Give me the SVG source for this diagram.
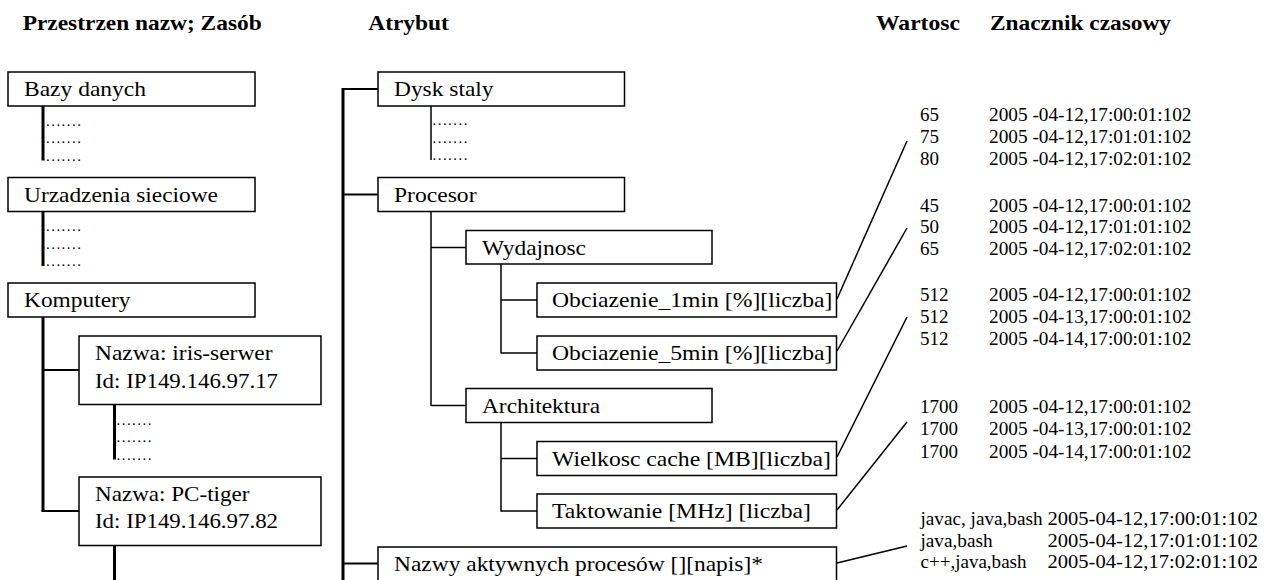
<svg xmlns="http://www.w3.org/2000/svg" width="1278" height="580" viewBox="0 0 1278 580" font-family="'Liberation Serif', serif">
  <style>
    .hdr { font-family: "Liberation Serif", serif; font-size: 21.5px; font-weight: bold; fill: #000; }
    .lbl { font-family: "Liberation Serif", serif; font-size: 22px; fill: #000; }
    .dots { font-family: "Liberation Serif", serif; font-size: 15px; letter-spacing: 1.45px; fill: #000; }
    .val { font-family: "Liberation Serif", serif; font-size: 19px; fill: #000; }
    .box { fill: #fff; stroke: #000; stroke-width: 1.5; }
    .trunk { stroke: #000; stroke-width: 3; fill: none; }
    .branch { stroke: #000; stroke-width: 2.2; fill: none; }
    .thin { stroke: #000; stroke-width: 1.5; fill: none; }
    .link { stroke: #000; stroke-width: 1.5; fill: none; }
  </style>
  <rect width="1278" height="580" fill="#fff"/>

  <!-- column headings -->
  <g id="headers">
    <text class="hdr" x="22.7" y="29.5" textLength="239" lengthAdjust="spacingAndGlyphs">Przestrzen nazw; Zasób</text>
    <text class="hdr" x="368.3" y="29.5" textLength="80.5" lengthAdjust="spacingAndGlyphs">Atrybut</text>
    <text class="hdr" x="876" y="29.5" textLength="84" lengthAdjust="spacingAndGlyphs">Wartosc</text>
    <text class="hdr" x="990" y="29.5" textLength="181" lengthAdjust="spacingAndGlyphs">Znacznik czasowy</text>
  </g>

  <!-- tree lines and value links -->
  <g id="connectors">
    <!-- namespace / resource tree -->
    <line class="trunk" x1="43" y1="106" x2="43" y2="160.5"/>
    <line class="trunk" x1="43" y1="211.5" x2="43" y2="266"/>
    <line class="trunk" x1="43" y1="317" x2="43" y2="511"/>
    <line class="branch" x1="43" y1="370" x2="79" y2="370"/>
    <line class="branch" x1="41.5" y1="511" x2="79" y2="511"/>
    <line class="trunk" x1="114.5" y1="404.5" x2="114.5" y2="459.5"/>
    <line class="trunk" x1="114.5" y1="545.5" x2="114.5" y2="580"/>

    <!-- attribute tree -->
    <line class="trunk" x1="343" y1="88" x2="343" y2="580"/>
    <line class="branch" x1="343" y1="89" x2="378" y2="89"/>
    <line class="branch" x1="343" y1="194.5" x2="378" y2="194.5"/>
    <line class="branch" x1="343" y1="563.5" x2="378" y2="563.5"/>
    <line class="thin" x1="431" y1="106" x2="431" y2="160"/>
    <line class="thin" x1="431" y1="211.5" x2="431" y2="406"/>
    <line class="thin" x1="431" y1="247.5" x2="466" y2="247.5"/>
    <line class="thin" x1="431" y1="405.5" x2="466" y2="405.5"/>
    <line class="thin" x1="501" y1="264" x2="501" y2="353.5"/>
    <line class="thin" x1="501" y1="300" x2="537" y2="300"/>
    <line class="thin" x1="501" y1="353" x2="537" y2="353"/>
    <line class="thin" x1="501" y1="422.5" x2="501" y2="511.5"/>
    <line class="thin" x1="501" y1="458.5" x2="537" y2="458.5"/>
    <line class="thin" x1="501" y1="511" x2="537" y2="511"/>

    <!-- links from attributes to their value lists -->
    <line class="link" x1="837" y1="299" x2="907" y2="141"/>
    <line class="link" x1="837" y1="351" x2="907" y2="228"/>
    <line class="link" x1="837" y1="457" x2="907" y2="317"/>
    <line class="link" x1="837" y1="510" x2="907" y2="422"/>
    <line class="link" x1="837" y1="563" x2="907" y2="546"/>
  </g>

  <!-- namespaces and resources -->
  <g id="node-bazy-danych">
    <rect class="box" x="8" y="72" width="247" height="34"/>
    <text class="lbl" x="24" y="96" textLength="122" lengthAdjust="spacingAndGlyphs">Bazy danych</text>
    <text class="dots" x="46" y="125.5">.......</text>
    <text class="dots" x="46" y="143">.......</text>
    <text class="dots" x="46" y="160.5">.......</text>
  </g>
  <g id="node-urzadzenia-sieciowe">
    <rect class="box" x="8" y="177.5" width="247" height="34"/>
    <text class="lbl" x="24" y="201.5" textLength="194" lengthAdjust="spacingAndGlyphs">Urzadzenia sieciowe</text>
    <text class="dots" x="46" y="231">.......</text>
    <text class="dots" x="46" y="248.5">.......</text>
    <text class="dots" x="46" y="266">.......</text>
  </g>
  <g id="node-komputery">
    <rect class="box" x="8" y="283" width="247" height="34"/>
    <text class="lbl" x="24" y="307" textLength="106.5" lengthAdjust="spacingAndGlyphs">Komputery</text>
  </g>
  <g id="node-iris-serwer">
    <rect class="box" x="79" y="336" width="242" height="68.5"/>
    <text class="lbl" x="95" y="360" textLength="177.5" lengthAdjust="spacingAndGlyphs">Nazwa: iris-serwer</text>
    <text class="lbl" x="95" y="387.5" textLength="183" lengthAdjust="spacingAndGlyphs">Id: IP149.146.97.17</text>
    <text class="dots" x="116.5" y="424.5">.......</text>
    <text class="dots" x="116.5" y="442">.......</text>
    <text class="dots" x="116.5" y="459.5">.......</text>
  </g>
  <g id="node-pc-tiger">
    <rect class="box" x="79" y="477" width="242" height="68.5"/>
    <text class="lbl" x="95" y="501" textLength="154.5" lengthAdjust="spacingAndGlyphs">Nazwa: PC-tiger</text>
    <text class="lbl" x="95" y="528" textLength="183" lengthAdjust="spacingAndGlyphs">Id: IP149.146.97.82</text>
  </g>

  <!-- attributes -->
  <g id="node-dysk-staly">
    <rect class="box" x="378" y="72" width="246.5" height="34"/>
    <text class="lbl" x="394" y="96" textLength="99.5" lengthAdjust="spacingAndGlyphs">Dysk staly</text>
    <text class="dots" x="432.5" y="125">.......</text>
    <text class="dots" x="432.5" y="142.5">.......</text>
    <text class="dots" x="432.5" y="160">.......</text>
  </g>
  <g id="node-procesor">
    <rect class="box" x="378" y="177.5" width="246.5" height="34"/>
    <text class="lbl" x="394" y="201.5" textLength="82.5" lengthAdjust="spacingAndGlyphs">Procesor</text>
  </g>
  <g id="node-wydajnosc">
    <rect class="box" x="466" y="230.5" width="246" height="33.5"/>
    <text class="lbl" x="482" y="254.5" textLength="104" lengthAdjust="spacingAndGlyphs">Wydajnosc</text>
  </g>
  <g id="node-obciazenie-1min">
    <rect class="box" x="537" y="283" width="299.5" height="34"/>
    <text class="lbl" x="552" y="307" textLength="280.5" lengthAdjust="spacingAndGlyphs">Obciazenie_1min [%][liczba]</text>
  </g>
  <g id="node-obciazenie-5min">
    <rect class="box" x="537" y="336" width="299.5" height="34"/>
    <text class="lbl" x="552" y="360" textLength="280.5" lengthAdjust="spacingAndGlyphs">Obciazenie_5min [%][liczba]</text>
  </g>
  <g id="node-architektura">
    <rect class="box" x="466" y="388.5" width="246" height="34"/>
    <text class="lbl" x="482" y="412.5" textLength="118" lengthAdjust="spacingAndGlyphs">Architektura</text>
  </g>
  <g id="node-wielkosc-cache">
    <rect class="box" x="537" y="441.5" width="299.5" height="34"/>
    <text class="lbl" x="552" y="465.5" textLength="279" lengthAdjust="spacingAndGlyphs">Wielkosc cache [MB][liczba]</text>
  </g>
  <g id="node-taktowanie">
    <rect class="box" x="537" y="494" width="299.5" height="34"/>
    <text class="lbl" x="552" y="518" textLength="259" lengthAdjust="spacingAndGlyphs">Taktowanie [MHz] [liczba]</text>
  </g>
  <g id="node-nazwy-procesow">
    <rect class="box" x="378" y="547" width="458.5" height="40"/>
    <text class="lbl" x="394" y="571" textLength="369" lengthAdjust="spacingAndGlyphs">Nazwy aktywnych procesów [][napis]*</text>
  </g>

  <!-- values with timestamps -->
  <g id="values-obciazenie-1min">
    <text class="val" x="920" y="120.5">65</text>
    <text class="val" x="920" y="142.5">75</text>
    <text class="val" x="920" y="164.5">80</text>
    <text class="val" x="989" y="120.5" textLength="202.5" lengthAdjust="spacingAndGlyphs">2005 -04-12,17:00:01:102</text>
    <text class="val" x="989" y="142.5" textLength="202.5" lengthAdjust="spacingAndGlyphs">2005 -04-12,17:01:01:102</text>
    <text class="val" x="989" y="164.5" textLength="202.5" lengthAdjust="spacingAndGlyphs">2005 -04-12,17:02:01:102</text>
  </g>
  <g id="values-obciazenie-5min">
    <text class="val" x="920" y="211.5">45</text>
    <text class="val" x="920" y="233">50</text>
    <text class="val" x="920" y="254.5">65</text>
    <text class="val" x="989" y="211.5" textLength="202.5" lengthAdjust="spacingAndGlyphs">2005 -04-12,17:00:01:102</text>
    <text class="val" x="989" y="233" textLength="202.5" lengthAdjust="spacingAndGlyphs">2005 -04-12,17:01:01:102</text>
    <text class="val" x="989" y="254.5" textLength="202.5" lengthAdjust="spacingAndGlyphs">2005 -04-12,17:02:01:102</text>
  </g>
  <g id="values-wielkosc-cache">
    <text class="val" x="920" y="301">512</text>
    <text class="val" x="920" y="323">512</text>
    <text class="val" x="920" y="345">512</text>
    <text class="val" x="989" y="301" textLength="202.5" lengthAdjust="spacingAndGlyphs">2005 -04-12,17:00:01:102</text>
    <text class="val" x="989" y="323" textLength="202.5" lengthAdjust="spacingAndGlyphs">2005 -04-13,17:00:01:102</text>
    <text class="val" x="989" y="345" textLength="202.5" lengthAdjust="spacingAndGlyphs">2005 -04-14,17:00:01:102</text>
  </g>
  <g id="values-taktowanie">
    <text class="val" x="920" y="413">1700</text>
    <text class="val" x="920" y="435">1700</text>
    <text class="val" x="920" y="457.5">1700</text>
    <text class="val" x="989" y="413" textLength="202.5" lengthAdjust="spacingAndGlyphs">2005 -04-12,17:00:01:102</text>
    <text class="val" x="989" y="435" textLength="202.5" lengthAdjust="spacingAndGlyphs">2005 -04-13,17:00:01:102</text>
    <text class="val" x="989" y="457.5" textLength="202.5" lengthAdjust="spacingAndGlyphs">2005 -04-14,17:00:01:102</text>
  </g>
  <g id="values-nazwy-procesow">
    <text class="val" x="920.5" y="525" textLength="122" lengthAdjust="spacingAndGlyphs">javac, java,bash</text>
    <text class="val" x="920.5" y="546.5" textLength="72" lengthAdjust="spacingAndGlyphs">java,bash</text>
    <text class="val" x="920.5" y="568" textLength="106" lengthAdjust="spacingAndGlyphs">c++,java,bash</text>
    <text class="val" x="1047.5" y="525" textLength="210.5" lengthAdjust="spacingAndGlyphs">2005-04-12,17:00:01:102</text>
    <text class="val" x="1047.5" y="546.5" textLength="210.5" lengthAdjust="spacingAndGlyphs">2005-04-12,17:01:01:102</text>
    <text class="val" x="1047.5" y="568" textLength="210.5" lengthAdjust="spacingAndGlyphs">2005-04-12,17:02:01:102</text>
  </g>
</svg>
